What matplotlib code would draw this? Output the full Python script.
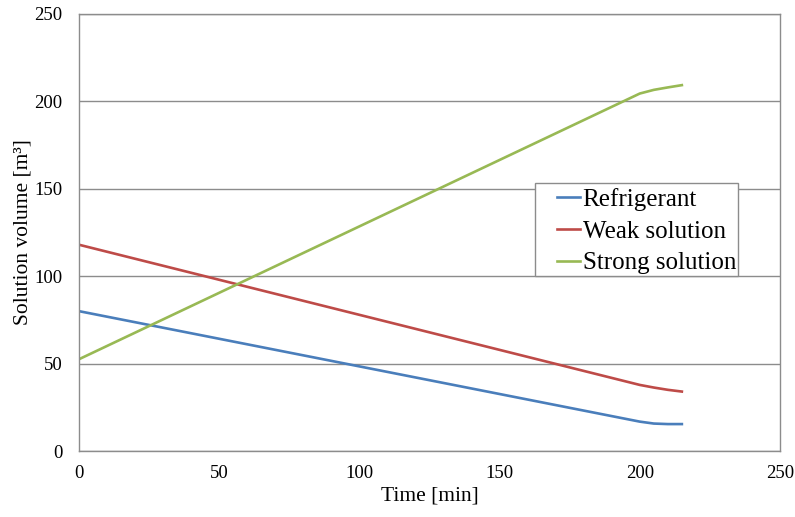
import matplotlib
matplotlib.use("Agg")
import matplotlib.pyplot as plt
from matplotlib.patches import Rectangle

plt.rcParams['font.family'] = ['Liberation Serif', 'DejaVu Serif']

time = [0, 200, 205, 210, 215]
refrigerant = [80.0, 16.8, 15.7, 15.4, 15.4]
weak = [118.0, 37.8, 36.3, 35.0, 34.0]
strong = [52.5, 204.5, 206.6, 208.0, 209.3]

xticks = [0, 50, 100, 150, 200, 250]
yticks = [0, 50, 100, 150, 200, 250]

fig = plt.figure(figsize=(7.95, 5.17), dpi=100)
ax = fig.add_axes([79/795, 1-451/517, (780-79)/795, (451-14)/517])

ax.plot(time, refrigerant, color='#4A7EBB', lw=1.9, label='Refrigerant')
ax.plot(time, weak, color='#BE4B48', lw=1.9, label='Weak solution')
ax.plot(time, strong, color='#98B954', lw=1.9, label='Strong solution')

ax.set_xlim(0, 250)
ax.set_ylim(0, 250)
ax.set_xticks(xticks)
ax.set_yticks(yticks)
ax.yaxis.grid(True, color='#8C8C8C', lw=1.0)
ax.set_axisbelow(True)
for s in ax.spines.values():
    s.set_color('#8C8C8C')
    s.set_linewidth(1.0)
ax.tick_params(axis='both', labelsize=13.5, length=0)
ax.tick_params(axis='x', pad=10)
ax.tick_params(axis='y', pad=12)
ax.set_xlabel('Time [min]', fontsize=15.5, labelpad=3)
ax.set_ylabel('Solution volume [m³]', fontsize=15.5, labelpad=1)

# legend frame
ax.add_patch(Rectangle((0.6505, 0.4005), 0.2895, 0.2125, transform=ax.transAxes,
                       facecolor='white', edgecolor='#8C8C8C', lw=1.0, zorder=4))
leg = ax.legend(loc='upper left', bbox_to_anchor=(0.682, 0.602), fontsize=18,
                frameon=False, handlelength=0.92, handletextpad=0.1,
                borderpad=0, labelspacing=0.37, borderaxespad=0)
leg.set_zorder(5)

fig.savefig('out.png', dpi=100)
